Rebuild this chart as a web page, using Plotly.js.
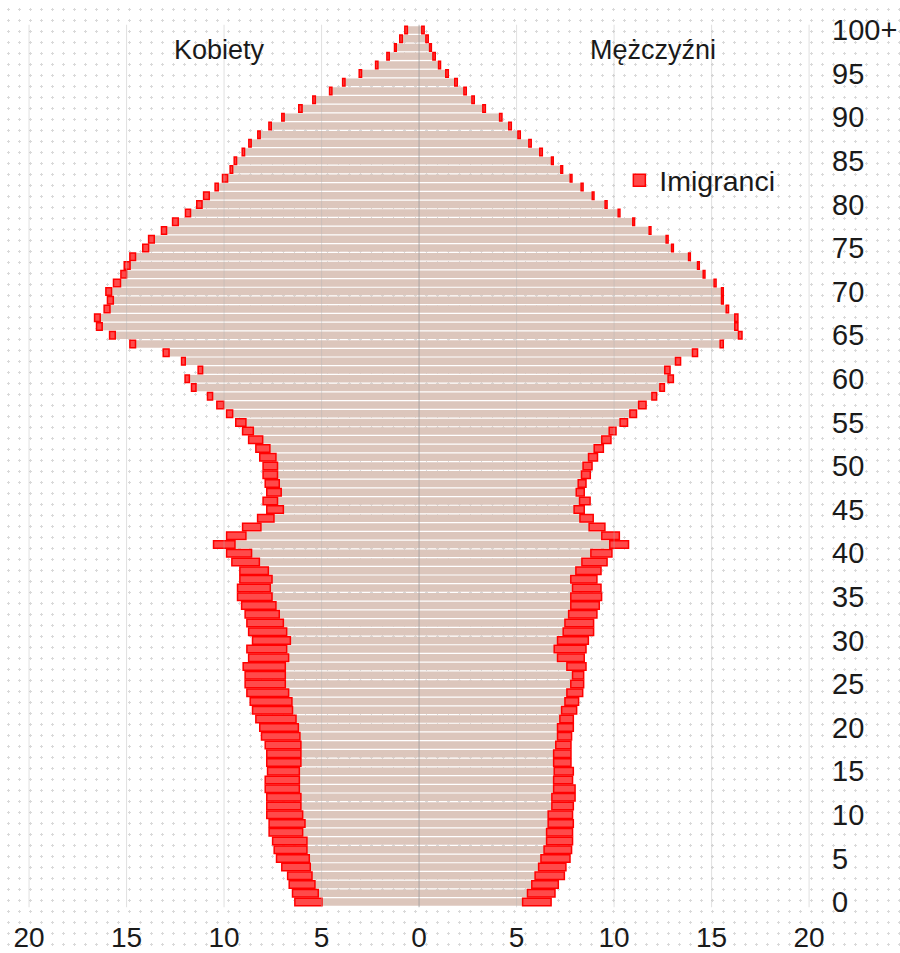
<!DOCTYPE html>
<html>
<head>
<meta charset="utf-8">
<script src="https://cdn.plot.ly/plotly-3.0.1.min.js"></script>
<style>
  html, body { margin: 0; padding: 0; background: #ffffff; }
  body {
    background-image: radial-gradient(circle, #d9d9d9 1px, rgba(255,255,255,0) 1.4px);
    background-size: 11px 11px;
    background-position: 3px 4px;
  }
  #chart { width: 900px; height: 953px; }
</style>
</head>
<body>
<div id="chart"></div>
<script>
// Ages 0 .. 100 (last group is 100+)
const ages = Array.from({length: 101}, (_, i) => i);

// Kobiety (women) – native population and immigrants
const kobietyRodzime = [
  4.98, 5.17, 5.34, 5.49, 5.58, 5.63, 5.75, 5.75, 5.97, 5.85,
  5.97, 6.06, 6.06, 6.14, 6.14, 6.14, 6.06, 6.06, 6.06, 6.11,
  6.19, 6.31, 6.49, 6.52, 6.69, 6.86, 6.86, 6.86, 6.69, 6.79,
  6.60, 6.79, 6.96, 7.17, 7.34, 7.54, 7.63, 7.54, 7.73, 8.19,
  8.59, 9.44, 8.88, 8.11, 7.44, 6.96, 7.26, 7.07, 7.17, 7.26,
  7.26, 7.34, 7.65, 8.02, 8.50, 8.88, 9.56, 10.02, 10.59, 11.44,
  11.78, 11.10, 11.99, 12.82, 14.54, 15.58, 16.25, 16.35, 15.85, 15.68,
  15.77, 15.31, 15.00, 14.82, 14.54, 13.87, 13.58, 12.95, 12.35, 11.72,
  11.13, 10.76, 10.30, 9.82, 9.56, 9.36, 8.95, 8.61, 8.15, 7.58,
  6.92, 6.00, 5.32, 4.47, 3.80, 2.95, 2.11, 1.53, 1.17, 0.86,
  0.60
];
const kobietyImigranci = [
  1.39, 1.32, 1.32, 1.25, 1.46, 1.68, 1.68, 1.76, 1.72, 1.84,
  1.84, 1.75, 1.75, 1.75, 1.75, 1.63, 1.75, 1.75, 1.83, 1.97,
  1.98, 2.06, 2.05, 2.14, 2.14, 2.06, 2.06, 2.16, 2.05, 2.04,
  1.94, 1.95, 1.87, 1.75, 1.76, 1.77, 1.68, 1.65, 1.46, 1.41,
  1.28, 1.10, 0.99, 0.94, 0.84, 0.85, 0.74, 0.74, 0.72, 0.74,
  0.74, 0.83, 0.72, 0.72, 0.55, 0.52, 0.31, 0.35, 0.26, 0.23,
  0.22, 0.23, 0.19, 0.30, 0.29, 0.29, 0.29, 0.29, 0.30, 0.30,
  0.29, 0.36, 0.29, 0.30, 0.29, 0.30, 0.29, 0.26, 0.29, 0.26,
  0.27, 0.29, 0.16, 0.26, 0.13, 0.12, 0.12, 0.12, 0.12, 0.12,
  0.12, 0.17, 0.13, 0.12, 0.12, 0.12, 0.12, 0.12, 0.09, 0.13,
  0.13
];

// Mężczyźni (men) – native population and immigrants
const mezczyzniRodzimi = [
  5.31, 5.56, 5.78, 5.95, 6.13, 6.25, 6.41, 6.54, 6.54, 6.62,
  6.62, 6.81, 6.81, 6.90, 6.90, 6.93, 6.90, 6.90, 7.01, 7.10,
  7.10, 7.22, 7.31, 7.48, 7.58, 7.78, 7.87, 7.58, 7.10, 6.93,
  7.10, 7.39, 7.48, 7.67, 7.78, 7.78, 7.87, 7.78, 8.04, 8.35,
  8.81, 9.78, 9.37, 8.72, 8.25, 7.95, 8.23, 8.06, 8.16, 8.33,
  8.41, 8.69, 8.98, 9.37, 9.75, 10.31, 10.81, 11.26, 11.94, 12.35,
  12.77, 12.60, 13.15, 14.02, 15.44, 16.38, 16.19, 16.19, 15.75, 15.51,
  15.51, 15.13, 14.57, 14.28, 13.82, 12.95, 12.67, 11.80, 10.96, 10.21,
  9.54, 8.88, 8.31, 7.75, 7.27, 6.79, 6.19, 5.63, 5.07, 4.60,
  4.13, 3.27, 2.71, 2.30, 1.83, 1.37, 1.00, 0.71, 0.54, 0.35,
  0.14
];
const mezczyzniImigranci = [
  1.46, 1.41, 1.36, 1.50, 1.40, 1.49, 1.41, 1.33, 1.33, 1.29,
  1.25, 1.10, 1.19, 1.10, 0.97, 0.98, 0.89, 0.89, 0.78, 0.72,
  0.81, 0.69, 0.77, 0.70, 0.81, 0.66, 0.57, 0.98, 1.37, 1.63,
  1.58, 1.56, 1.47, 1.45, 1.46, 1.58, 1.46, 1.34, 1.29, 1.29,
  1.08, 0.96, 0.90, 0.81, 0.68, 0.52, 0.54, 0.41, 0.40, 0.45,
  0.46, 0.46, 0.47, 0.47, 0.35, 0.38, 0.34, 0.38, 0.24, 0.23,
  0.27, 0.27, 0.26, 0.26, 0.16, 0.18, 0.16, 0.16, 0.12, 0.09,
  0.09, 0.10, 0.09, 0.09, 0.09, 0.09, 0.10, 0.09, 0.09, 0.09,
  0.10, 0.09, 0.10, 0.09, 0.09, 0.09, 0.13, 0.12, 0.12, 0.13,
  0.12, 0.13, 0.12, 0.12, 0.13, 0.13, 0.10, 0.12, 0.09, 0.12,
  0.12
];

const xTickVals = [-20, -15, -10, -5, 0, 5, 10, 15, 20];
const xTickText = ['20', '15', '10', '5', '0', '5', '10', '15', '20'];
const yTickVals = [0, 5, 10, 15, 20, 25, 30, 35, 40, 45, 50, 55, 60, 65, 70, 75, 80, 85, 90, 95, 100];
const yTickText = ['0', '5', '10', '15', '20', '25', '30', '35', '40', '45', '50', '55', '60', '65', '70', '75', '80', '85', '90', '95', '100+'];

const labelKobiety = 'Kobiety';
const labelMezczyzni = 'Mężczyźni';
const labelImigranci = 'Imigranci';

const beige = '#dcc6bc';
const redFill = '#ff4a4a';
const redLine = '#ff0000';
const barW = 0.86;
const neg = arr => arr.map(v => -v);

const traces = [
  { type: 'bar', orientation: 'h', y: ages, x: neg(kobietyRodzime), width: barW,
    marker: { color: beige, line: { width: 0 } }, showlegend: false, hoverinfo: 'skip' },
  { type: 'bar', orientation: 'h', y: ages, x: neg(kobietyImigranci), width: barW,
    marker: { color: redFill, line: { color: redLine, width: 1.5 } }, showlegend: false, hoverinfo: 'skip' },
  { type: 'bar', orientation: 'h', y: ages, x: mezczyzniRodzimi, width: barW,
    marker: { color: beige, line: { width: 0 } }, showlegend: false, hoverinfo: 'skip' },
  { type: 'bar', orientation: 'h', y: ages, x: mezczyzniImigranci, width: barW, name: labelImigranci,
    marker: { color: redFill, line: { color: redLine, width: 1.5 } }, showlegend: true, hoverinfo: 'skip' }
];

const gridShapes = xTickVals.map(v => ({
  type: 'line', xref: 'x', yref: 'y', x0: v, x1: v, y0: -0.6, y1: 100.6, layer: 'above',
  line: { color: v === 0 ? 'rgba(150,150,150,0.75)' : 'rgba(180,180,180,0.4)', width: 1 }
}));

const fontFam = '"Liberation Sans", Arial, sans-serif';

const layout = {
  width: 900, height: 953,
  margin: { l: 0, r: 72, t: 0, b: 35, pad: 0 },
  paper_bgcolor: 'rgba(0,0,0,0)',
  plot_bgcolor: 'rgba(0,0,0,0)',
  barmode: 'relative',
  font: { family: fontFam, color: '#1a1a1a' },
  xaxis: {
    range: [-21.49, 20.97],
    tickvals: xTickVals, ticktext: xTickText,
    showgrid: false, zeroline: false, showline: false, ticks: '',
    tickfont: { size: 28, family: fontFam, color: '#1a1a1a' },
    fixedrange: true
  },
  yaxis: {
    range: [-1.835, 103.44],
    side: 'right',
    tickvals: yTickVals, ticktext: yTickText,
    showgrid: false, zeroline: false, showline: false, ticks: '',
    tickfont: { size: 29, family: fontFam, color: '#1a1a1a' },
    ticklabelstandoff: 3,
    fixedrange: true
  },
  shapes: gridShapes,
  showlegend: true,
  legend: {
    x: 0.748, xanchor: 'left', y: 0.803, yanchor: 'middle',
    bgcolor: 'rgba(0,0,0,0)', borderwidth: 0,
    font: { size: 28.5, family: fontFam, color: '#1a1a1a' }
  },
  annotations: [
    { text: labelKobiety, xref: 'x', yref: 'y', x: -10.25, y: 97.7, showarrow: false,
      font: { size: 27, family: fontFam, color: '#1a1a1a' } },
    { text: labelMezczyzni, xref: 'x', yref: 'y', x: 12.0, y: 97.7, showarrow: false,
      font: { size: 27, family: fontFam, color: '#1a1a1a' } }
  ]
};

Plotly.newPlot('chart', traces, layout, { displayModeBar: false, staticPlot: true });
</script>
</body>
</html>
